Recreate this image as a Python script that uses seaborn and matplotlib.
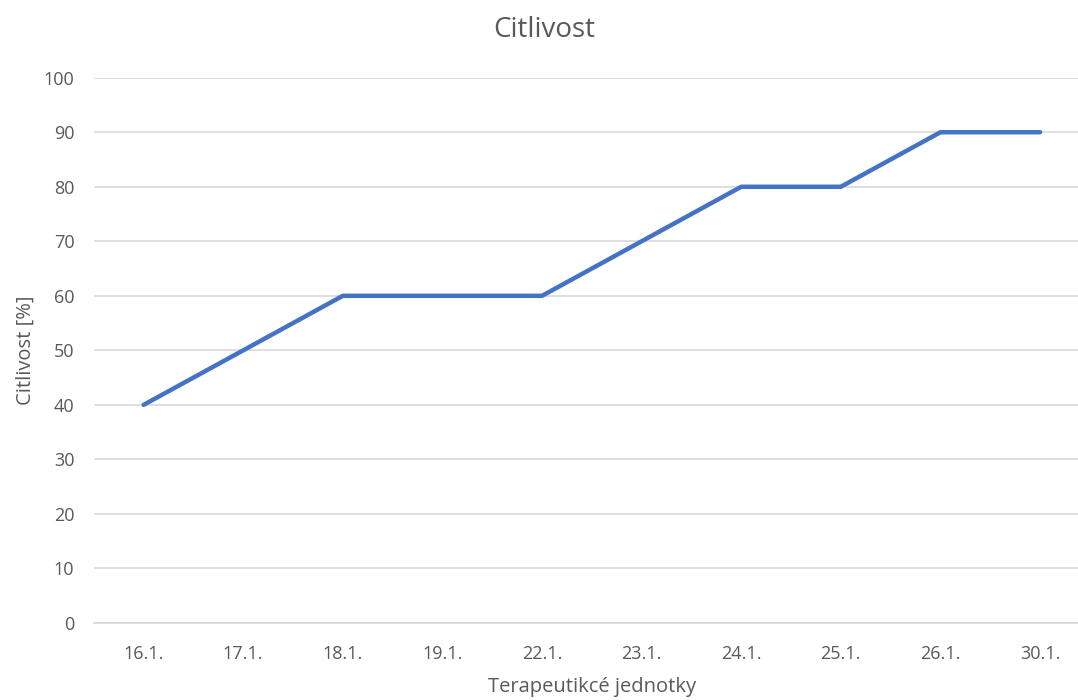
import pandas as pd
import matplotlib.pyplot as plt
import seaborn as sns

dates = ["16.1.", "17.1.", "18.1.", "19.1.", "22.1.", "23.1.", "24.1.", "25.1.", "26.1.", "30.1."]
citlivost = [40, 50, 60, 60, 60, 70, 80, 80, 90, 90]

df = pd.DataFrame({"Datum": dates, "Citlivost": citlivost})

sns.set_style("white")
plt.rcParams['font.family'] = ['Open Sans', 'DejaVu Sans']
grey = "#595959"

fig = plt.figure(figsize=(10.78, 7), dpi=100)
ax = fig.add_axes([0.087, 0.11, 0.924, 0.779])
sns.lineplot(data=df, x="Datum", y="Citlivost", sort=False, color="#4472C4",
             linewidth=3.2, ax=ax)

ax.set_ylim(0, 100)
ax.set_yticks(range(0, 101, 10))
ax.set_xlim(-0.5, len(dates) - 0.5)
ax.yaxis.grid(True, color="#d9d9d9", linewidth=1.2)
ax.set_axisbelow(True)
for s in ["top", "right", "left"]:
    ax.spines[s].set_visible(False)
ax.spines["bottom"].set_color("#d9d9d9")
ax.spines["bottom"].set_linewidth(1.2)
ax.tick_params(axis="both", length=0, labelsize=13, labelcolor=grey)
ax.tick_params(axis="y", pad=14)
ax.tick_params(axis="x", pad=16)

fig.text(0.505, 0.957, "Citlivost", fontsize=20, color=grey, ha="center", va="center")
ax.set_xlabel("Terapeutikcé jednotky", fontsize=14.5, color=grey, labelpad=10)
ax.set_ylabel("Citlivost [%]", fontsize=14.5, color=grey, labelpad=6)

fig.savefig("out.png", dpi=100)
